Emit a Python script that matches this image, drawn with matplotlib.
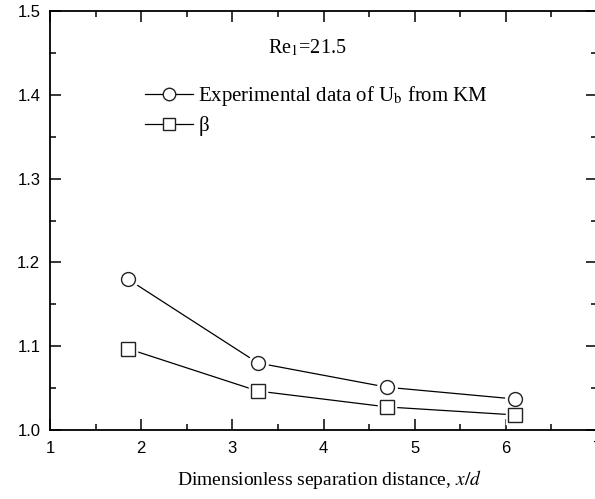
import matplotlib
matplotlib.use('Agg')
import matplotlib.pyplot as plt
from matplotlib.ticker import MultipleLocator

x_sep = [1.855, 3.28, 4.70, 6.10]
ub_km = [1.180, 1.080, 1.051, 1.037]
beta = [1.097, 1.0465, 1.0275, 1.018]
labels = ['Experimental data of U$_\\mathrm{b}$ from KM', '\u03b2']

plt.rcParams['mathtext.fontset'] = 'stix'

fig = plt.figure(figsize=(5.95, 4.99), dpi=100)
ax = fig.add_axes([50 / 595, 1 - 430 / 499, 547 / 595, 419 / 499])

handles = []
for y, mk in [(ub_km, 'o'), (beta, 's')]:
    ms = 10 if mk == 'o' else 9.5
    ax.plot(x_sep, y, color='black', lw=0.9, zorder=2)
    ax.plot(x_sep, y, linestyle='none', marker=mk, ms=ms + 2.5, mfc='white', mec='white', mew=2.5, zorder=3)
    ax.plot(x_sep, y, linestyle='none', marker=mk, ms=ms, mfc='white', mec='#222222', mew=1.0, zorder=4)
    h, = ax.plot([], [], color='black', lw=0.9, marker=mk, ms=ms - 1, mfc='white', mec='#222222', mew=1.0)
    handles.append(h)

ax.legend(handles, labels, loc='upper left', bbox_to_anchor=(95 / 547, (430 - 84) / 419), frameon=False,
          prop={'family': 'Liberation Serif', 'size': 15}, handlelength=2.3,
          handletextpad=0.25, labelspacing=0.38, borderaxespad=0, borderpad=0)

fig.text(268 / 595, 1 - 53 / 499, 'Re$_1$=21.5', fontsize=14.5, family='Liberation Serif', va='baseline')

ax.set_xlim(1, 7)
ax.set_ylim(1.0, 1.5)
ax.xaxis.set_major_locator(MultipleLocator(1))
ax.xaxis.set_minor_locator(MultipleLocator(0.5))
ax.yaxis.set_major_locator(MultipleLocator(0.1))
ax.yaxis.set_minor_locator(MultipleLocator(0.05))
ax.tick_params(which='both', direction='in', top=True, right=True, width=1.1, labelsize=12)
ax.tick_params(which='major', length=8)
ax.tick_params(axis='x', which='major', pad=8)
ax.tick_params(axis='y', which='major', pad=7)
ax.tick_params(which='minor', length=4.5)
for lbl in ax.get_xticklabels() + ax.get_yticklabels():
    lbl.set_family('Liberation Sans')
for s in ax.spines.values():
    s.set_linewidth(1.3)

ax.set_xlabel('Dimensionless separation distance, $\\mathit{x/d}$', family='Liberation Serif', fontsize=14, labelpad=10)
ax.xaxis.set_label_coords((329 - 50) / 547, -0.09)

fig.savefig('out.png', dpi=100)
